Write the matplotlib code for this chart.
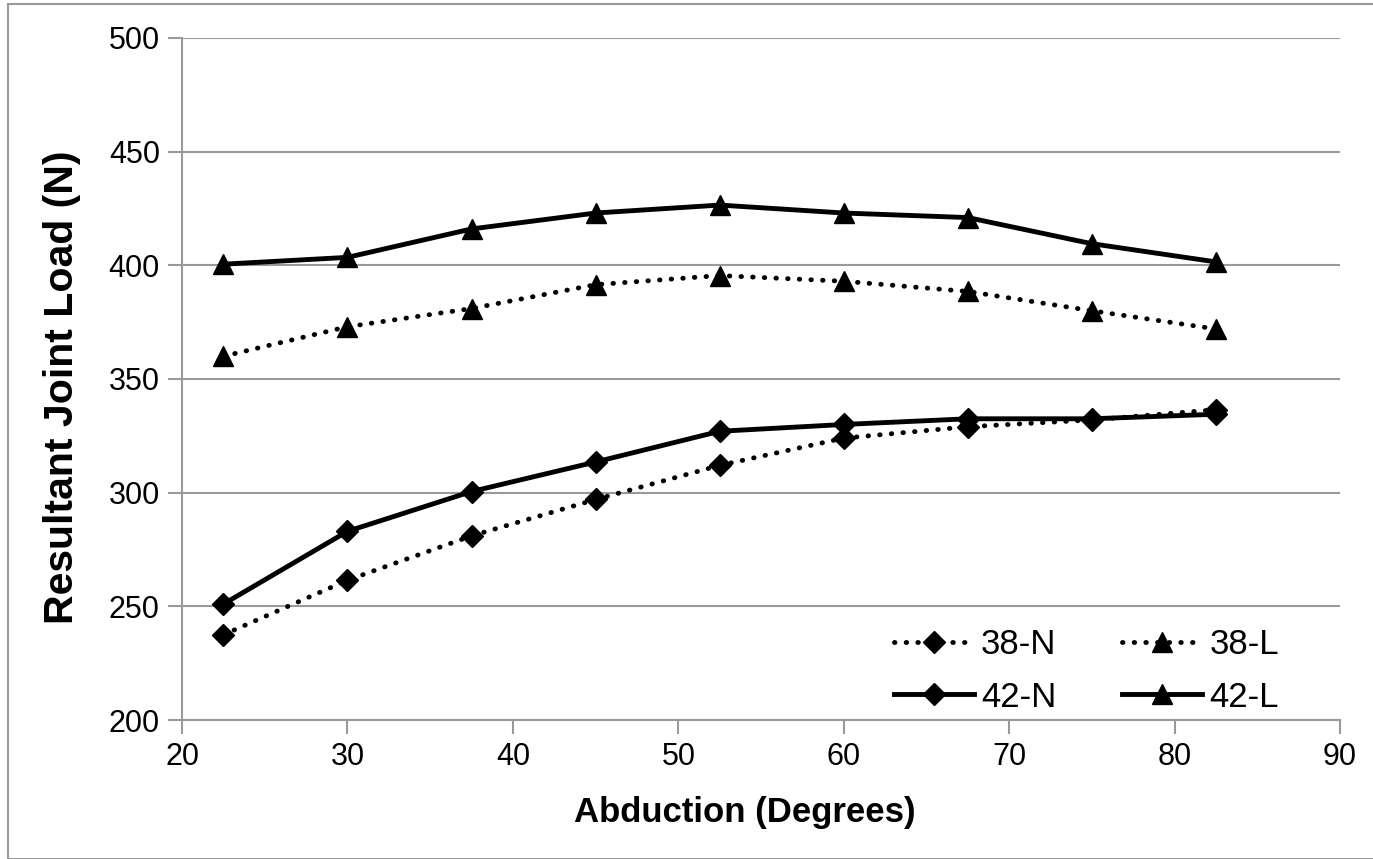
import matplotlib.pyplot as plt
from matplotlib.patches import Rectangle

# Abduction angles (degrees)
abduction = [22.5, 30, 37.5, 45, 52.5, 60, 67.5, 75, 82.5]

# Resultant joint load (N) for each case
load_38N = [237.5, 261.5, 281, 297, 312, 324, 329, 332, 336.5]
load_38L = [360, 373, 381, 391.5, 395.5, 393, 388.5, 380, 372]
load_42N = [251, 283, 300.5, 313.5, 327, 330, 332.5, 332.5, 334.5]
load_42L = [400.5, 403.5, 416, 423, 426.5, 423, 421, 409.5, 401.5]

plt.rcParams['font.family'] = ['Liberation Sans', 'DejaVu Sans']

fig = plt.figure(figsize=(13.73, 8.59), dpi=100)
ax = fig.add_axes([0.1326, 0.1618, 0.8434, 0.794])

# Light grey frame around the whole chart
fig.patches.append(Rectangle((8 / 1373, 0.0), 1.2, 1 - 4 / 859, transform=fig.transFigure,
                             fill=False, edgecolor='#999999', linewidth=1.5))

dotted = (0, (0.1, 2.3))
ax.plot(abduction, load_38N, color='black', linestyle=dotted, linewidth=3.5,
        dash_capstyle='round', marker='D', markersize=11, label='38-N')
ax.plot(abduction, load_42N, color='black', linestyle='-', linewidth=3.5,
        marker='D', markersize=11, label='42-N')
ax.plot(abduction, load_38L, color='black', linestyle=dotted, linewidth=3.5,
        dash_capstyle='round', marker='^', markersize=15, label='38-L')
ax.plot(abduction, load_42L, color='black', linestyle='-', linewidth=3.5,
        marker='^', markersize=15, label='42-L')

ax.set_xlim(20, 90)
ax.set_ylim(200, 500)
ax.set_xticks(range(20, 91, 10))
ax.set_yticks(range(200, 501, 50))

ax.yaxis.grid(True, color='#999999', linewidth=1.5)
ax.set_axisbelow(True)
for side in ['top', 'right']:
    ax.spines[side].set_visible(False)
for side in ['left', 'bottom']:
    ax.spines[side].set_color('#999999')
    ax.spines[side].set_linewidth(1.5)
ax.tick_params(axis='both', colors='#999999', width=1.5, length=10, labelcolor='black',
               labelsize=22, pad=6)

ax.set_xlabel('Abduction (Degrees)', fontsize=25, fontweight='bold', labelpad=17)
ax.set_ylabel('Resultant Joint Load (N)', fontsize=29.5, fontweight='bold', labelpad=20)
ax.xaxis.label.set_x(0.486)
ax.yaxis.label.set_y(0.488)

ax.legend(ncol=2, frameon=False, fontsize=25, handlelength=2.3, handletextpad=0.2,
          columnspacing=1.9, labelspacing=0.55, borderpad=0, loc='lower left',
          bbox_to_anchor=(0.600, -0.016))

plt.savefig('out.png', dpi=100)
